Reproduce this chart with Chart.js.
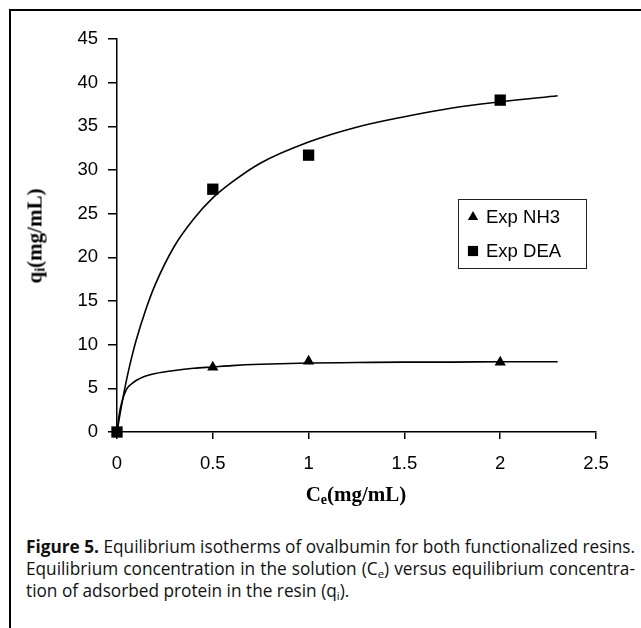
<!DOCTYPE html>
<html>
<head>
<meta charset="utf-8">
<script src="https://cdn.jsdelivr.net/npm/chart.js@4/dist/chart.umd.min.js"></script>
<style>
  html, body { margin:0; padding:0; background:#fff; width:641px; height:628px; overflow:hidden; position:relative; }
  #frame { position:absolute; left:9px; top:9px; width:700px; height:700px; border-top:2px solid #000; border-left:2px solid #000; box-sizing:border-box; }
  #wrap { position:absolute; left:0; top:0; width:641px; height:520px; }
  .xt { position:absolute; left:356px; top:494px; transform:translate(-50%,-50%); font:bold 21px "Liberation Serif", "DejaVu Serif", serif; white-space:nowrap; color:#000; }
  .yt { position:absolute; left:35px; top:236px; transform:translate(-50%,-50%) rotate(-90deg); font:bold 21px "Liberation Serif", "DejaVu Serif", serif; white-space:nowrap; color:#000; }
  .xt sub, .yt sub { font-size:14px; vertical-align:-3px; line-height:0; }
  .cap { position:absolute; left:26px; font-size:17.5px; line-height:22px; font-family:"Open Sans", "Liberation Sans", sans-serif; white-space:nowrap; transform-origin:0 0; color:#111; }
  .cap b { font-weight:700; }
  .cap sub { font-size:11.5px; vertical-align:-3px; line-height:0; }
</style>
</head>
<body>
<div id="frame"></div>
<div id="wrap"><canvas id="c" width="641" height="520"></canvas></div>
<div class="xt">C<sub>e</sub>(mg/mL)</div>
<div class="yt">q<sub>i</sub>(mg/mL)</div>
<div class="cap" id="c1" style="top:535px"><b>Figure 5.</b> Equilibrium isotherms of ovalbumin for both functionalized resins.</div>
<div class="cap" id="c2" style="top:557px">Equilibrium concentration in the solution (C<sub>e</sub>) versus equilibrium concentra-</div>
<div class="cap" id="c3" style="top:579px">tion of adsorbed protein in the resin (q<sub>i</sub>).</div>
<script>
// ---- data ----
const expC   = [0, 0.5, 1, 2];
const expNH3 = [0, 7.4, 8.1, 8.0];
const expDEA = [0, 27.8, 31.7, 38.0];

const curveC   = [0, 0.01, 0.025, 0.05, 0.075, 0.1, 0.15, 0.2, 0.3, 0.4, 0.5, 0.6, 0.75, 1.0, 1.25, 1.5, 1.75, 2.0, 2.3];
const curveDEA = [0, 1.3, 3.2, 6.0, 8.4, 10.5, 14.0, 16.9, 21.3, 24.4, 26.8, 28.6, 30.8, 33.2, 34.9, 36.1, 37.1, 37.8, 38.5];
const curveNH3 = [0, 1.8, 3.4, 4.9, 5.5, 5.9, 6.4, 6.7, 7.05, 7.3, 7.45, 7.6, 7.75, 7.9, 7.95, 8.0, 8.0, 8.05, 8.05];

const xTicks = [0, 0.5, 1, 1.5, 2, 2.5];
const yTicks = [0, 5, 10, 15, 20, 25, 30, 35, 40, 45];
const seriesLabels = ['Exp NH3', 'Exp DEA'];

const pts = (xs, ys) => xs.map((x, i) => ({ x: x, y: ys[i] }));

const boxLegend = {
  id: 'boxLegend',
  afterDatasetsDraw(chart, args, o) {
    const ctx = chart.ctx;
    ctx.save();
    ctx.strokeStyle = '#222';
    ctx.lineWidth = 1;
    ctx.strokeRect(o.left + 0.5, o.top + 0.5, o.width, o.height);
    const items = chart.data.datasets.filter(d => d.inLegend)
      .sort((a, b) => a.legendOrder - b.legendOrder);
    items.forEach((d, i) => {
      const y = o.top + o.rowStart + i * o.rowGap;
      ctx.fillStyle = '#000';
      Chart.helpers.drawPoint(ctx, { pointStyle: d.pointStyle, radius: d.legendRadius, borderWidth: 0, rotation: 0 }, o.left + o.markerX, y);
      ctx.fillStyle = '#000';
      ctx.font = '18.5px "Liberation Sans", Arial, sans-serif';
      ctx.textBaseline = 'middle';
      ctx.textAlign = 'left';
      ctx.fillText(d.label, o.left + o.textX, y + 1);
    });
    ctx.restore();
  }
};

const tickFont = { family: '"Liberation Sans", Arial, sans-serif', size: 18.5 };

new Chart(document.getElementById('c'), {
  type: 'scatter',
  data: {
    datasets: [
      { label: seriesLabels[1], inLegend: true, legendOrder: 1, data: pts(expC, expDEA), pointStyle: 'rect', pointRadius: 8, backgroundColor: '#000', borderColor: '#000', borderWidth: 0, showLine: false, clip: false, legendRadius: 7.2 },
      { label: seriesLabels[0], inLegend: true, legendOrder: 0, data: pts(expC, expNH3), pointStyle: 'triangle', pointRadius: 6.5, backgroundColor: '#000', borderColor: '#000', borderWidth: 0, showLine: false, clip: false, legendRadius: 6 },
      { label: 'fit DEA', data: pts(curveC, curveDEA), showLine: true, borderColor: '#000', borderWidth: 1.6, pointRadius: 0, cubicInterpolationMode: 'monotone', clip: false },
      { label: 'fit NH3', data: pts(curveC, curveNH3), showLine: true, borderColor: '#000', borderWidth: 1.6, pointRadius: 0, cubicInterpolationMode: 'monotone', clip: false }
    ]
  },
  options: {
    responsive: false,
    devicePixelRatio: 1,
    animation: false,
    events: [],
    layout: { padding: { left: 0, right: 45, top: 39, bottom: 0 } },
    plugins: {
      legend: { display: false },
      tooltip: { enabled: false },
      boxLegend: { left: 458, top: 199, width: 128, height: 69, markerX: 15, textX: 28, rowStart: 18, rowGap: 34 }
    },
    scales: {
      x: {
        type: 'linear', min: 0, max: 2.5,
        afterBuildTicks: s => { s.ticks = xTicks.map(v => ({ value: v })); },
        afterFit: s => { s.height = 88; },
        ticks: { font: tickFont, color: '#000', padding: 14, maxRotation: 0, callback: v => String(v) },
        grid: { drawOnChartArea: false, drawTicks: true, tickLength: 7, color: '#000', lineWidth: 1.5 },
        border: { display: true, color: '#000', width: 1.5 }
      },
      y: {
        type: 'linear', min: 0, max: 45,
        afterBuildTicks: s => { s.ticks = yTicks.map(v => ({ value: v })); },
        afterFit: s => { s.width = 117; },
        ticks: { font: tickFont, color: '#000', padding: 10, callback: v => String(v) },
        grid: { drawOnChartArea: false, drawTicks: true, tickLength: 9, color: '#000', lineWidth: 1.5 },
        border: { display: true, color: '#000', width: 1.5 }
      }
    }
  },
  plugins: [boxLegend]
});

function fitCaption() {
  const target = 609;
  const c1 = document.getElementById('c1'), c2 = document.getElementById('c2'), c3 = document.getElementById('c3');
  [c1, c2, c3].forEach(el => { el.style.transform = ''; el.style.wordSpacing = ''; });
  const w1 = c1.getBoundingClientRect().width;
  const s = target / w1;
  const w2 = c2.getBoundingClientRect().width;
  const n2 = (c2.textContent.match(/ /g) || []).length;
  c2.style.wordSpacing = ((target / s - w2) / n2) + 'px';
  [c1, c2, c3].forEach(el => { el.style.transform = 'scaleX(' + s + ')'; });
}
fitCaption();
if (document.fonts && document.fonts.ready) document.fonts.ready.then(fitCaption);
</script>
</body>
</html>
